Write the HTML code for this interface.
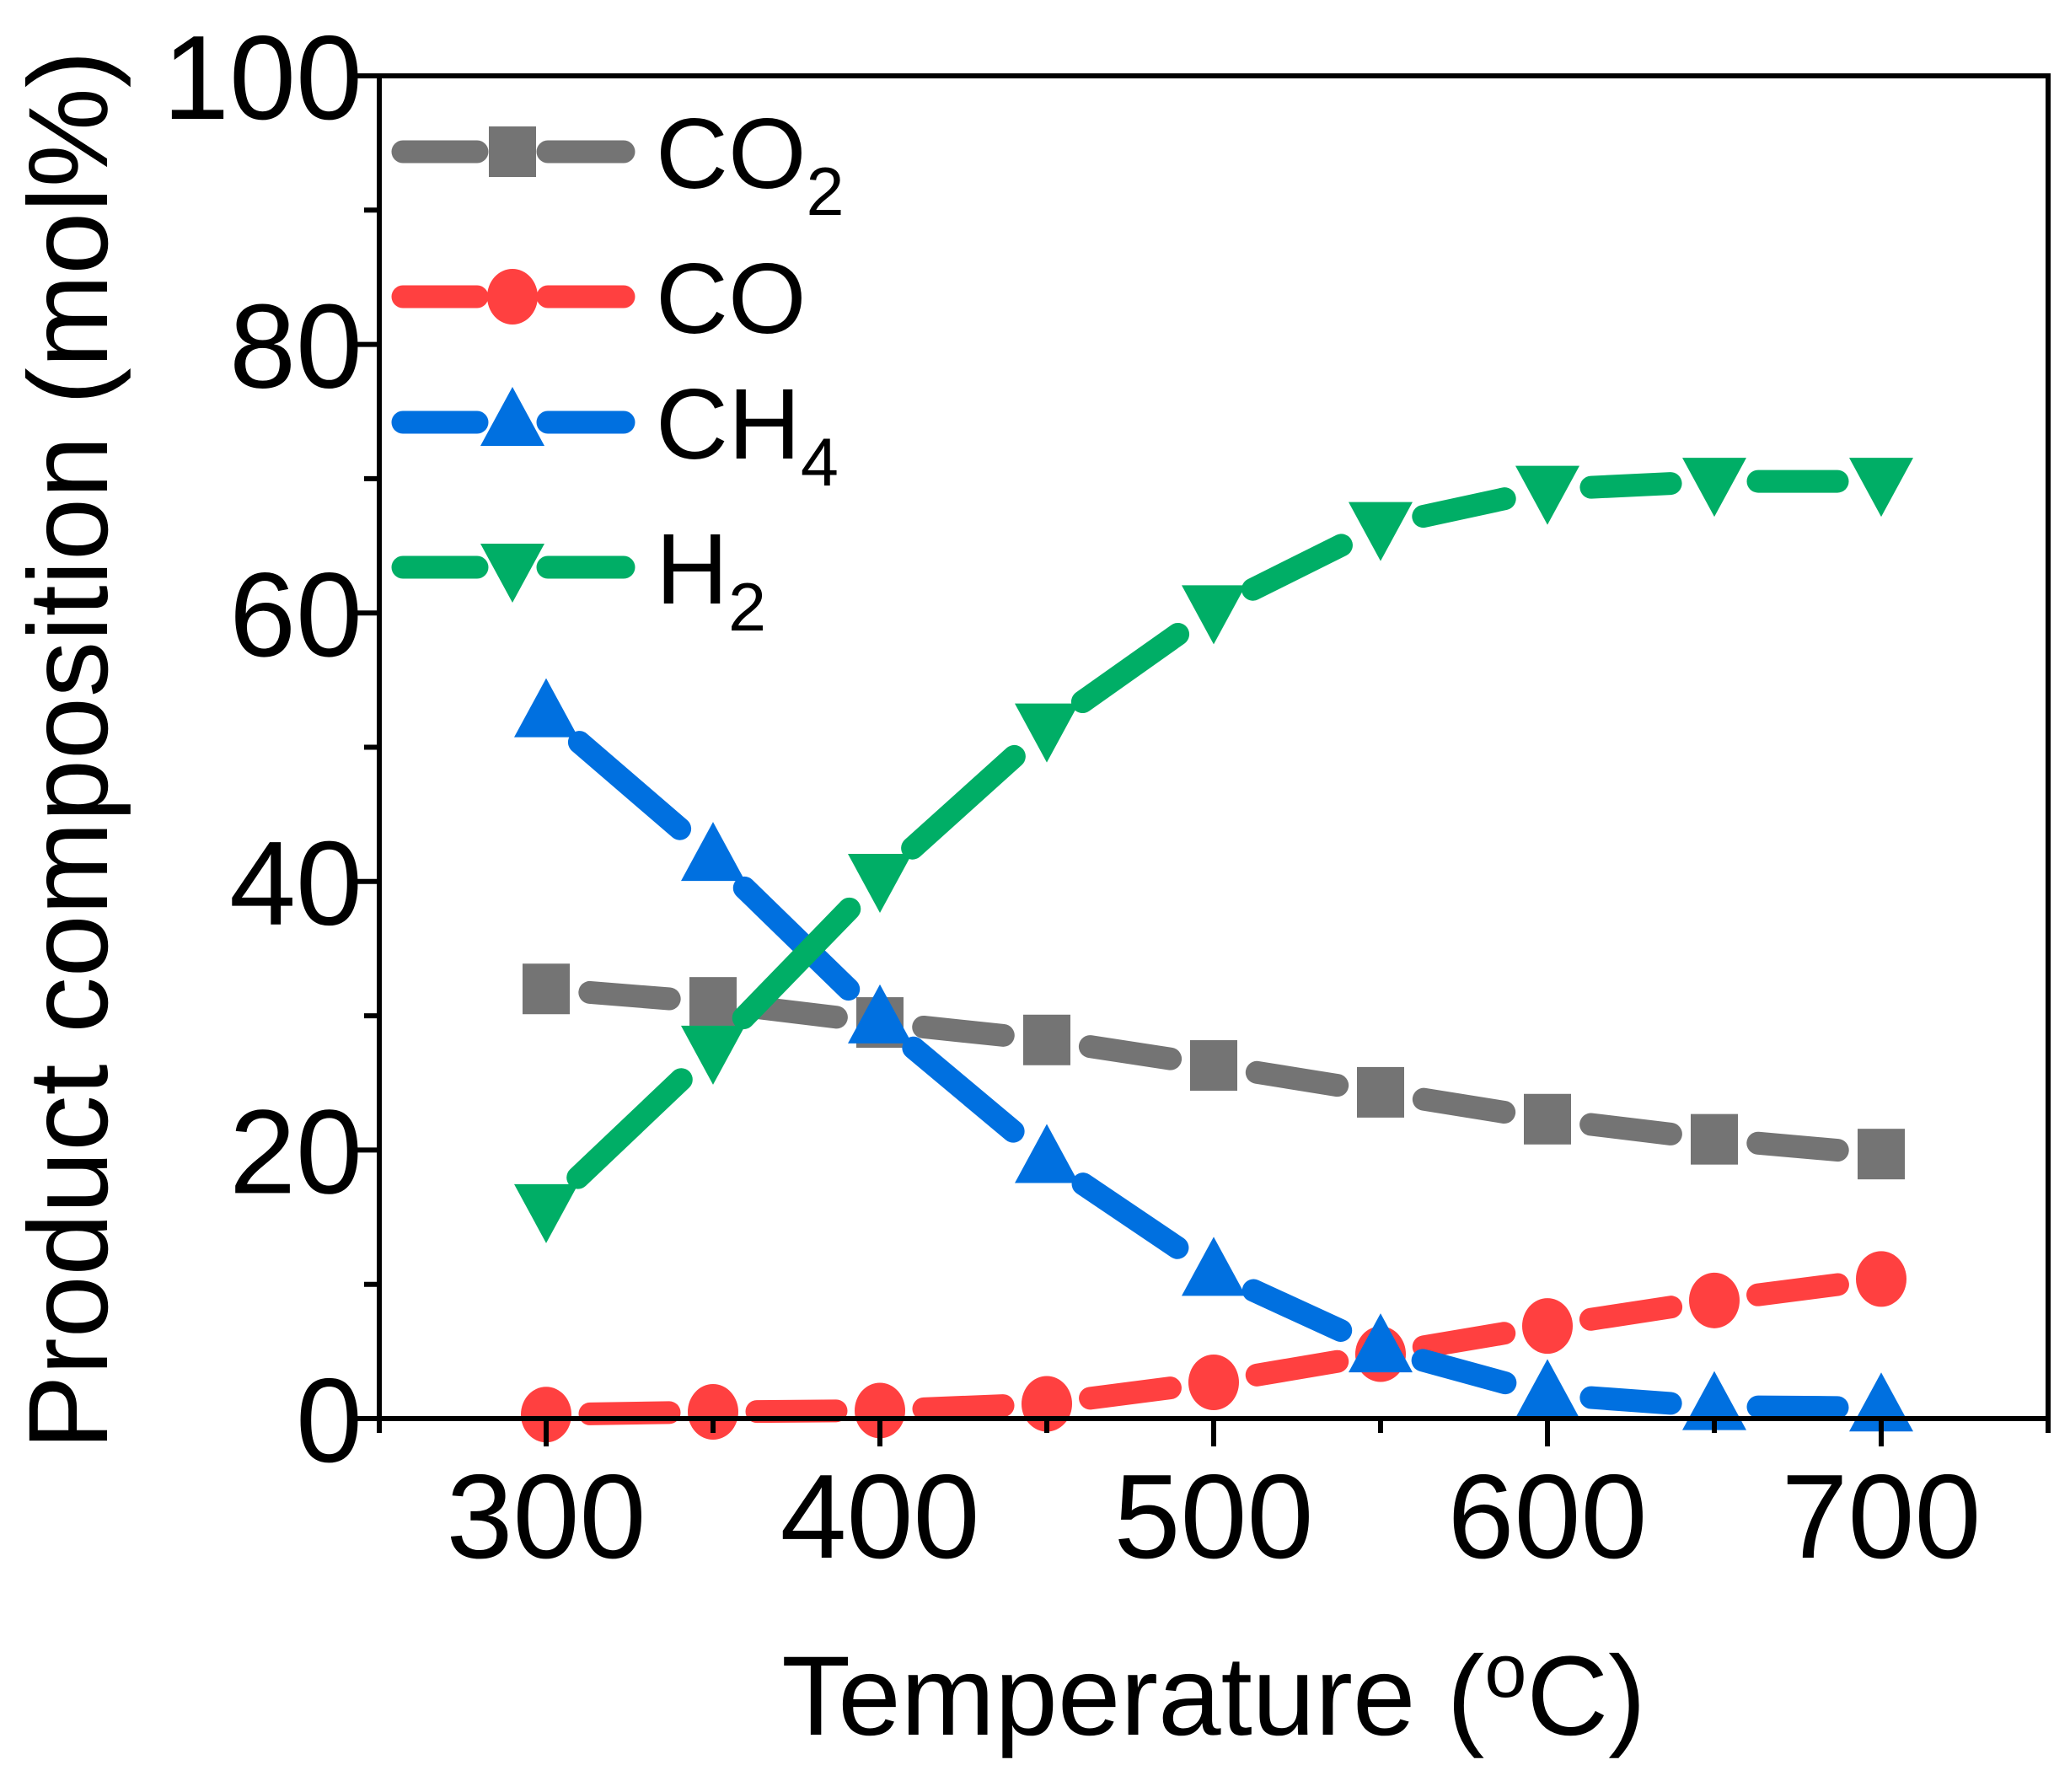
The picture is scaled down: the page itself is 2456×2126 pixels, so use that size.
<!DOCTYPE html>
<html><head><meta charset="utf-8"><style>
html,body{margin:0;padding:0;background:#fff;}
svg{display:block;font-family:"Liberation Sans",Arial,sans-serif;}
</style></head><body>
<svg id="chart" width="2456" height="2126" viewBox="0 0 2456 2126" xmlns="http://www.w3.org/2000/svg">
<g id="plot"></g>
<g id="axes"></g>
<g id="legend"></g>
<text x="1440" y="2058" font-size="134" text-anchor="middle">Temperature (<tspan font-size="90" dy="-45">o</tspan><tspan dy="45">C)</tspan></text>
<text transform="translate(127,890) rotate(-90)" font-size="134" text-anchor="middle" textLength="1660" lengthAdjust="spacingAndGlyphs">Product composition (mol%)</text>
</svg>
<script>
const temps = [300,350,400,450,500,550,600,650,700];
const co2 = [32,31,29.5,28.2,26.3,24.3,22.3,20.8,19.7];
const co = [0.3,0.5,0.6,1.1,2.7,4.8,6.9,8.8,10.4];
const ch4 = [52.5,41.8,29.7,19.3,10.9,5.2,1.8,0.9,0.8];
const h2 = [15.7,27.5,40.3,51.5,60.3,66.5,69.2,69.8,69.8];
const xTicks = [300,400,500,600,700];
const yTicks = [0,20,40,60,80,100];

const L=450,R=2430,T=90,B=1683;
const xs=v=>L+(v-250)/500*(R-L);
const ys=v=>B-v/100*(B-T);
const NS='http://www.w3.org/2000/svg';
function mk(tag,attrs,parent){const e=document.createElementNS(NS,tag);for(const k in attrs)e.setAttribute(k,attrs[k]);parent.appendChild(e);return e;}

const series=[
 {name:'co2',vals:co2,color:'#747474',marker:'square'},
 {name:'co',vals:co,color:'#ff4040',marker:'circle'},
 {name:'ch4',vals:ch4,color:'#0070e0',marker:'up'},
 {name:'h2',vals:h2,color:'#00ae66',marker:'down'}
];
function drawMarker(type,x,y,color,parent,nm){
  let e;
  if(type==='square'){e=mk('rect',{x:x-28,y:y-30,width:56,height:60,fill:color},parent);}
  else if(type==='circle'){e=mk('ellipse',{cx:x,cy:y,rx:30,ry:33,fill:color},parent);}
  else if(type==='up'){e=mk('polygon',{points:`${x},${y-42} ${x-38},${y+28} ${x+38},${y+28}`,fill:color},parent);}
  else {e=mk('polygon',{points:`${x},${y+42} ${x-38},${y-28} ${x+38},${y-28}`,fill:color},parent);}
  
  
}
const plot=document.getElementById('plot');
series.forEach(s=>{
  const g=mk('g',{},plot);
  
  
  for(let i=0;i<temps.length-1;i++){
    const x1=xs(temps[i]),y1=ys(s.vals[i]),x2=xs(temps[i+1]),y2=ys(s.vals[i+1]);
    const dx=x2-x1,dy=y2-y1,len=Math.hypot(dx,dy),gap=Math.min(52,len/2-1);
    const ux=dx/len,uy=dy/len;
    const ln=mk('line',{x1:x1+ux*gap,y1:y1+uy*gap,x2:x2-ux*gap,y2:y2-uy*gap,stroke:s.color,'stroke-width':27,'stroke-linecap':'round'},g);
    
    
  }
  temps.forEach((t,i)=>drawMarker(s.marker,xs(t),ys(s.vals[i]),s.color,g,s.name+'-point'));
});

const axes=document.getElementById('axes');
const frame=mk('rect',{x:L,y:T,width:R-L,height:B-T,fill:'none',stroke:'#000','stroke-width':6},axes);


for(let v=250;v<=750;v+=50){
  const major=xTicks.includes(v);
  const t=mk('line',{x1:xs(v),x2:xs(v),y1:B,y2:B+(major?33:17),stroke:'#000','stroke-width':6},axes);
  
  
}
xTicks.forEach(v=>{
  const t=mk('text',{x:xs(v),y:1848,'font-size':142,'text-anchor':'middle'},axes);
  t.textContent=v;
  
  
});
for(let v=0;v<=100;v+=10){
  const major=yTicks.includes(v);
  const t=mk('line',{x1:L,x2:L-(major?36:18),y1:ys(v),y2:ys(v),stroke:'#000','stroke-width':6},axes);
  
  
}
yTicks.forEach(v=>{
  const t=mk('text',{x:430,y:ys(v)+51,'font-size':142,'text-anchor':'end'},axes);
  t.textContent=v;
  
  
});

const legend=document.getElementById('legend');
const labels=[['CO','2'],['CO',''],['CH','4'],['H','2']];
const rows=[180,352,501,673];
series.forEach((s,i)=>{
  const g=mk('g',{},legend);
  
  
  const y=rows[i];
  mk('line',{x1:478,y1:y,x2:566,y2:y,stroke:s.color,'stroke-width':27,'stroke-linecap':'round'},g);
  mk('line',{x1:650,y1:y,x2:740,y2:y,stroke:s.color,'stroke-width':27,'stroke-linecap':'round'},g);
  drawMarker(s.marker,608,y,s.color,g,'legend-marker');
  const t=mk('text',{x:778,y:y+43,'font-size':119},g);
  t.textContent=labels[i][0];
  
  
  if(labels[i][1]){const ts=mk('tspan',{'font-size':81,dy:32},t);ts.textContent=labels[i][1];}
});
</script>
</body></html>
